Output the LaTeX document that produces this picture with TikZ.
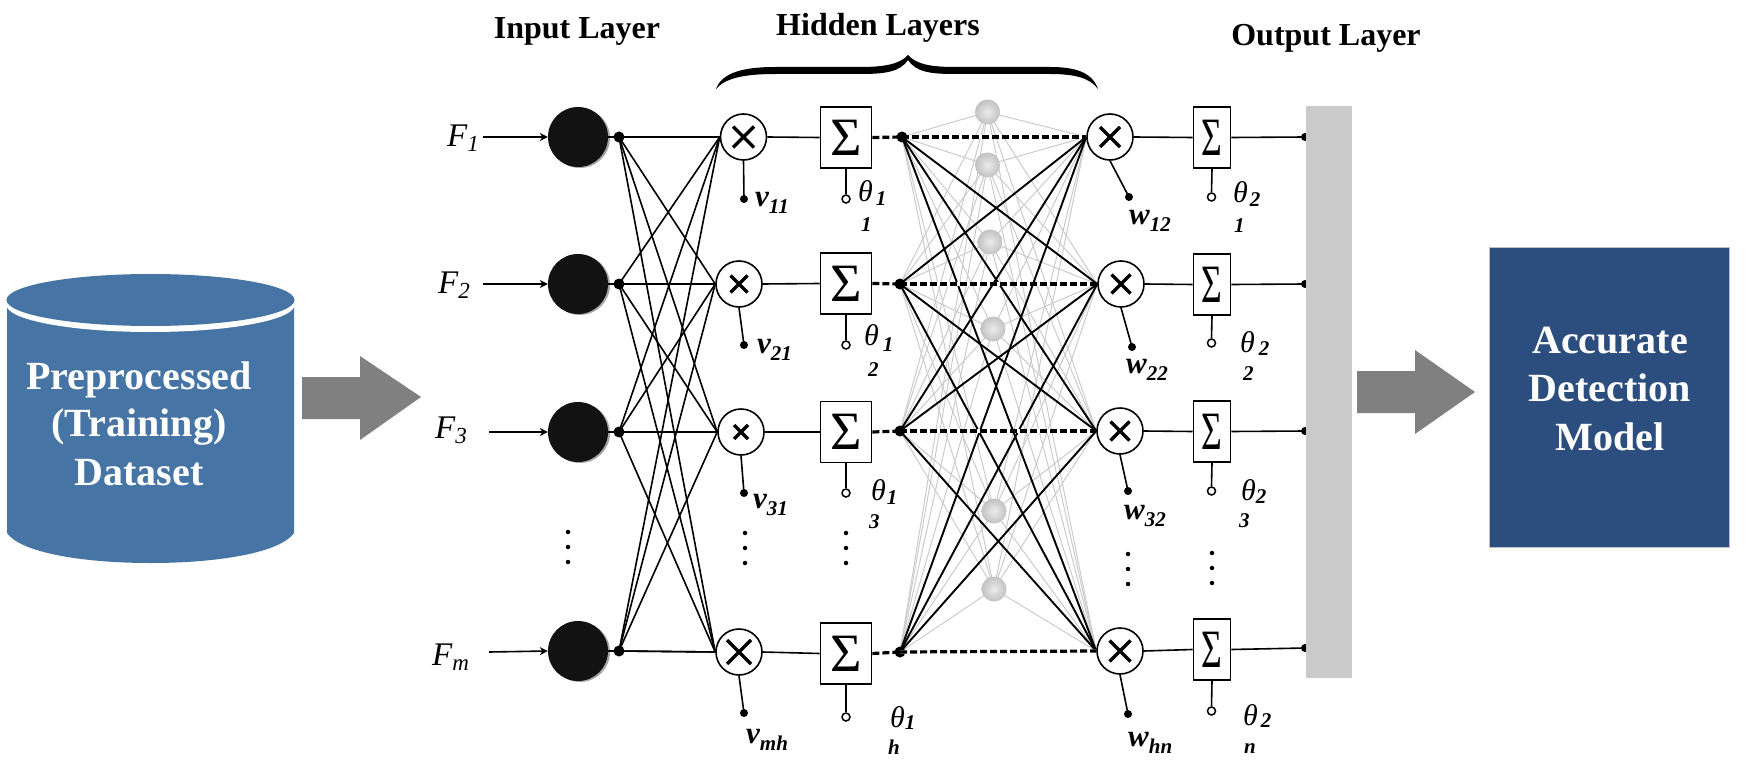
\documentclass[tikz,border=0pt]{standalone}
\usepackage{fontspec}
\usepackage{graphicx}
\setmainfont{Liberation Serif}
\usetikzlibrary{arrows.meta}
\pgfdeclarelayer{bgl}
\pgfsetlayers{bgl,main}
\definecolor{cyl}{HTML}{4674A4}
\definecolor{modelbox}{HTML}{2B4E7E}
\definecolor{barc}{HTML}{CACACA}
\definecolor{arrowc}{HTML}{808080}
\definecolor{greyline}{HTML}{CBCBCB}
\newcommand{\fsz}[1]{\fontsize{#1}{#1}\selectfont}
\newcommand{\FL}[2]{{\fsz{33}\itshape #1\raisebox{-5pt}{\fsz{23}#2}}}
\newcommand{\VL}[2]{{\fsz{31}\bfseries\itshape #1\raisebox{-7pt}{\fsz{21}#2}}}
% theta, kern before the subscript, subscript, drop of the subscript
\newcommand{\TL}[3]{{\fsz{30}\itshape θ\hspace{#1pt}\raisebox{-#3pt}{\fsz{21}\bfseries #2}}}
\tikzset{
  x=1pt,y=-1pt,
  neuron/.style={circle,fill=black!93,minimum size=60pt,inner sep=0},
  jdot/.style={circle,fill=black,minimum size=11pt,inner sep=0},
  sdot/.style={circle,fill=black,minimum size=8pt,inner sep=0},
  odot/.style={circle,draw=black,line width=1.5pt,fill=white,minimum size=8pt,inner sep=0},
  mul/.style={circle,draw=black,line width=1.6pt,fill=white,minimum size=46pt,inner sep=0},
  crossl/.style={line width=3.4pt,black},
  sumA/.style={draw=black,line width=1.7pt,fill=white,minimum width=51pt,minimum height=61pt,inner sep=0},
  sumB/.style={draw=black,line width=1.7pt,fill=white,minimum width=37pt,minimum height=61pt,inner sep=0},
  ball/.style={circle,minimum size=25pt,inner sep=0,shade,inner color=black!8,outer color=black!24},
  lbl/.style={anchor=base west,inner sep=0},
  head/.style={anchor=base,inner sep=0,font=\fsz{32}\bfseries},
  big/.style={anchor=base,inner sep=0,font=\fsz{40}\bfseries,text=white},
  wire/.style={line width=1.6pt,black},
  cross/.style={line width=1.6pt,black},
  crossb/.style={line width=1.9pt,black},
  dashl/.style={line width=3.2pt,black,dash pattern=on 7pt off 3pt},
  grey/.style={line width=1pt,greyline},
  vdots/.style={circle,fill=black,minimum size=4.5pt,inner sep=0},
  arrowin/.style={line width=1.6pt,-{Stealth[length=8pt,width=8pt]}},
  sublbl/.style={lbl,font=\fsz{21}\bfseries\itshape},
}
\begin{document}
\begin{tikzpicture}
\useasboundingbox (0,0) rectangle (1758,770);

% cylinder
\fill[cyl] (7,300) -- (7,533) .. controls (20,552) and (80,563) .. (150.5,563) .. controls (221,563) and (281,552) .. (294,533) -- (294,300) -- cycle;
\fill[white] (150.5,305) ellipse [x radius=144pt,y radius=27pt];
\fill[cyl] (150.5,300) ellipse [x radius=144pt,y radius=26pt];
\node[big] (t1) at (139,389) {Preprocessed};
\node[big] (t2) at (139,436) {(Training)};
\node[big] (t3) at (139,485) {Dataset};

% grey arrows
\fill[arrowc] (302,377) -- (360,377) -- (360,356) -- (421,397) -- (360,440) -- (360,419) -- (302,419) -- cycle;
\fill[arrowc] (1357,371) -- (1415,371) -- (1415,350) -- (1475,392) -- (1415,434) -- (1415,413) -- (1357,413) -- cycle;

% model box
\node[fill=modelbox,draw=black!25,line width=1pt,minimum width=240pt,minimum height=300pt,inner sep=0] (model) at (1609,397) {};
\node[big] (a1) at (1610,353) {Accurate};
\node[big] (a2) at (1610,401) {Detection};
\node[big] (a3) at (1610,450) {Model};

% headings
\node[head] (hi) at (577,39) {Input Layer};
\node[head] (hh) at (878,36) {Hidden Layers};
\node[head] (ho) at (1326,46) {Output Layer};

% brace
\fill[black] (716,89) .. controls (722,72) and (745,67) .. (775,67) -- (860,67)
  .. controls (885,67) and (900,64) .. (908,55)
  .. controls (916,64) and (930,67) .. (955,67) -- (1050,67)
  .. controls (1075,67) and (1092,72) .. (1098,89)
  .. controls (1090,78) and (1075,74) .. (1050,74) -- (955,74)
  .. controls (930,74) and (916,72) .. (908,60)
  .. controls (900,72) and (885,74) .. (860,74) -- (775,74)
  .. controls (745,74) and (725,78) .. (716,89) -- cycle;

% input neurons and junctions
\foreach \r/\y in {1/137,2/284,3/432,4/651}{
  \fill[black!35] (580,\y+1) circle [radius=30pt];
  \node[neuron] (n\r) at (578,\y) {};
  \node[jdot] (j\r) at (619,\y) {};
}
\foreach \r/\x/\y/\c in {1/743.5/137/10.5,2/739/284/8.5,3/741/432/7,4/739/652/12}{
  \node[mul] (m\r) at (\x,\y) {};
  \draw[crossl] (\x-\c,\y-\c) -- (\x+\c,\y+\c) (\x-\c,\y+\c) -- (\x+\c,\y-\c);
}
\foreach \r/\y in {1/137.5,2/283.5,3/432,4/653.5}{
  \node[sumA] (s\r) at (846,\y) {\fsz{54}Σ};
}
\foreach \r/\x/\y in {1/902/137,2/900/284,3/900/431,4/900/652}{
  \node[jdot] (d\r) at (\x,\y) {};
}
\foreach \r/\x/\y/\c in {1/1110/137/10,2/1121/284/9.5,3/1120/431/9.5,4/1120/651/10.5}{
  \node[mul] (M\r) at (\x,\y) {};
  \draw[crossl] (\x-\c,\y-\c) -- (\x+\c,\y+\c) (\x-\c,\y+\c) -- (\x+\c,\y-\c);
}
\foreach \r/\y in {1/137.5,2/284.5,3/431.5,4/649.5}{
  \node[sumB] (S\r) at (1212,\y) {\scalebox{0.66}[1]{\fsz{54}Σ}};
}

% hidden grey balls
\foreach \k/\x/\y in {1/987.5/112,2/987.5/165,3/990/242,4/993/329,5/994/511,6/994/589}{
  \node[ball] (h\k) at (\x,\y) {};
}
\begin{pgfonlayer}{bgl}
\foreach \k in {1,...,6}{
  \foreach \r in {1,...,4}{
    \draw[grey] (d\r.center) -- (h\k.center);
    \draw[grey] (h\k.center) -- (M\r.west);
  }
}
\end{pgfonlayer}

% input feature arrows and labels
\coordinate (f1) at (483,137);
\coordinate (f2) at (483,284);
\coordinate (f3) at (489,432);
\coordinate (f4) at (489,652);
\foreach \r in {1,...,4}{ \draw[arrowin] (f\r) -- (n\r.west); }
\node[lbl] (Fa) at (447,147) {\FL{F}{1}};
\node[lbl] (Fb) at (438,293) {\FL{F}{2}};
\node[lbl] (Fc) at (435,438) {\FL{F}{3}};
\node[lbl] (Fd) at (432,665) {\FL{F}{m}};

% black connectors
\foreach \r in {1,...,4}{
  \draw[wire] (n\r.east) -- (j\r.center);
  \foreach \q in {1,...,4}{
    \draw[cross] (j\r.center) -- (m\q.west);
    \draw[crossb] (d\r.center) -- (M\q.west);
  }
  \draw[wire] (j\r.center) -- (m\r.west);
  \draw[wire] (m\r.east) -- (s\r.west);
  \draw[wire] (M\r.east) -- (S\r.west);
}
\foreach \r in {1,...,4}{
  \draw[line width=3.2pt,white] (d\r.center) -- (M\r.west);
  \draw[dashl] (s\r.east) -- (d\r.center);
  \draw[dashl] (d\r.center) -- (M\r.west);
}

% v terminals
\foreach \r/\y in {1/199,2/345,3/493,4/713}{
  \node[sdot] (v\r) at (744,\y) {};
  \draw[wire] (m\r.south) -- (v\r.center);
}
% theta terminals, first column
\foreach \r/\y in {1/199,2/345,3/493,4/717}{
  \node[odot] (o\r) at (846,\y) {};
  \draw[wire] (s\r.south) -- (o\r.north);
}
% w terminals
\foreach \r/\x/\y in {1/1129/197,2/1132/347,3/1128/491,4/1128/714}{
  \node[sdot] (w\r) at (\x,\y) {};
  \draw[wire] (M\r.south) -- (w\r.center);
}
% theta terminals, second column
\foreach \r/\y in {1/197,2/343,3/491,4/711}{
  \node[odot] (O\r) at (1211.5,\y) {};
  \draw[wire] (S\r.south) -- (O\r.north);
}

% output lines and bar
\foreach \r/\y in {1/137,2/284,3/431,4/648}{
  \node[sdot] (e\r) at (1305,\y) {};
  \draw[wire] (S\r.east) -- (e\r.center);
}
\node[fill=barc,minimum width=46.5pt,minimum height=572pt,inner sep=0] (bar) at (1329,392) {};

% v, w labels
\node[lbl] (lv1) at (755,207) {\VL{v}{11}};
\node[lbl] (lv2) at (757,353) {\VL{v}{21}};
\node[lbl] (lv3) at (753,508) {\VL{v}{31}};
\node[lbl] (lv4) at (746,743) {\VL{v}{mh}};
\node[lbl] (lw1) at (1129,224) {\VL{w}{12}};
\node[lbl] (lw2) at (1126,373) {\VL{w}{22}};
\node[lbl] (lw3) at (1124,519) {\VL{w}{32}};
\node[lbl] (lw4) at (1128,746) {\VL{w}{hn}};

% theta labels
\node[lbl] (ta1) at (858,202) {\TL{3}{1}{4}};
\node[lbl] (ta2) at (864,345) {\TL{4}{1}{6}};
\node[lbl] (ta3) at (871,500) {\TL{1}{1}{4}};
\node[lbl] (ta4) at (890,727) {\TL{0}{1}{2}};
\node[lbl] (tb1) at (1233,203) {\TL{2}{2}{4}};
\node[lbl] (tb2) at (1240,352) {\TL{4}{2}{3}};
\node[lbl] (tb3) at (1241,500) {\TL{0}{2}{3}};
\node[lbl] (tb4) at (1243,725) {\TL{3}{2}{2}};
\node[sublbl] (ua1) at (861,231) {1};
\node[sublbl] (ua2) at (868,376) {2};
\node[sublbl] (ua3) at (869,528) {3};
\node[sublbl] (ua4) at (888,754) {h};
\node[sublbl] (ub1) at (1234,232) {1};
\node[sublbl] (ub2) at (1243,380) {2};
\node[sublbl] (ub3) at (1239,527) {3};
\node[sublbl] (ub4) at (1244,753) {n};

% vertical dots
\foreach \c/\x/\ya/\yb/\yc in {a/568/532/547/562,b/745/533/548/563,c/846/533/548/563,d/1128/554/569/584,e/1212/553/568/583}{
  \node[vdots] (\c1) at (\x,\ya) {};
  \node[vdots] (\c2) at (\x,\yb) {};
  \node[vdots] (\c3) at (\x,\yc) {};
}
\end{tikzpicture}
\end{document}
